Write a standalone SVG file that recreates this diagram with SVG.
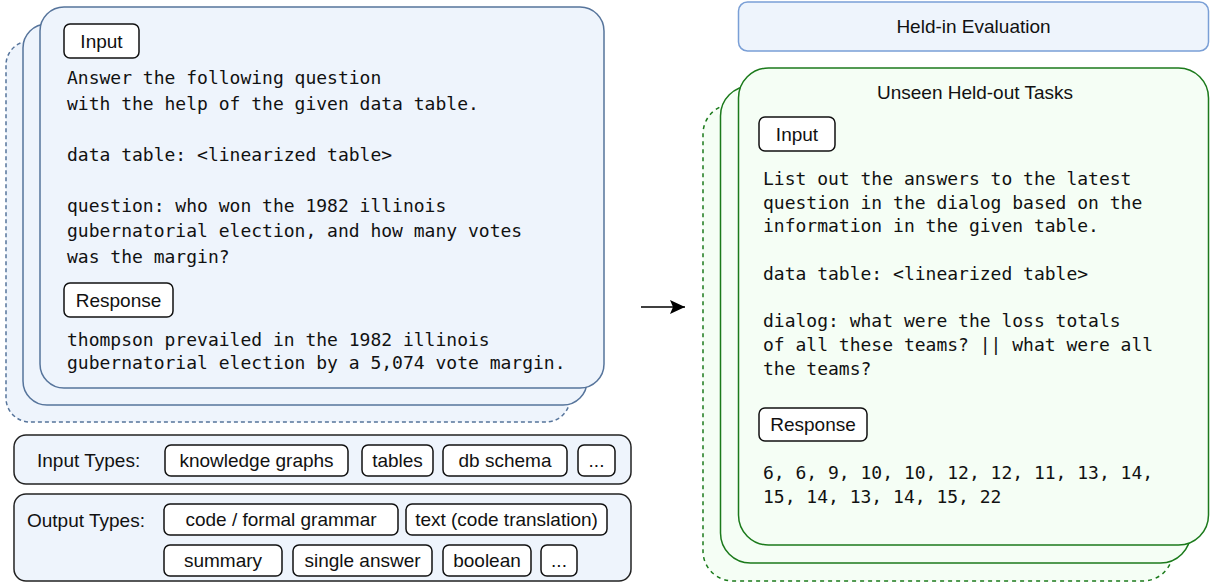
<svg xmlns="http://www.w3.org/2000/svg" width="1210" height="583" viewBox="0 0 1210 583">
<defs>
<style>
.bcard{fill:#eef4fc;stroke:#56749b;stroke-width:1.5}
.bdash{fill:#eef4fc;stroke:#56749b;stroke-width:1.5;stroke-dasharray:4 3}
.gcard{fill:#f5fef5;stroke:#1b7a1b;stroke-width:1.5}
.gdash{fill:#f5fef5;stroke:#1b7a1b;stroke-width:1.5;stroke-dasharray:4 4}
.lbl{fill:#ffffff;stroke:#111111;stroke-width:1.5}
.outer{fill:#eef4fc;stroke:#222222;stroke-width:1.5}
.sans{font-family:"Liberation Sans",Arial,sans-serif;font-size:19px;fill:#111111}
.mid{text-anchor:middle}
.mono{font-family:"DejaVu Sans Mono","Liberation Mono",monospace;font-size:18px;fill:#111111}
</style>
<marker id="arrow" viewBox="0 0 16 14" refX="15" refY="7" markerWidth="16" markerHeight="14" markerUnits="userSpaceOnUse" orient="auto">
<path d="M0,0 L15,7 L0,14 L3,7 Z" fill="#000000"/>
</marker>
</defs>

<g id="train-stack">
<rect class="bdash" x="6" y="41" width="564" height="381" rx="24"/>
<rect class="bcard" x="23" y="24" width="564" height="381" rx="24"/>
<rect class="bcard" x="40" y="7" width="564" height="381" rx="24"/>
</g>

<g id="train-input-label">
<rect class="lbl" x="64" y="24" width="75" height="34" rx="6"/>
<text class="sans mid" x="101.5" y="48">Input</text>
</g>
<g id="train-input-text">
<text class="mono" x="67" y="84">Answer the following question</text>
<text class="mono" x="67" y="109.5">with the help of the given data table.</text>
<text class="mono" x="67" y="160.5">data table: &lt;linearized table&gt;</text>
<text class="mono" x="67" y="211.5">question: who won the 1982 illinois</text>
<text class="mono" x="67" y="237">gubernatorial election, and how many votes</text>
<text class="mono" x="67" y="263">was the margin?</text>
</g>
<g id="train-response-label">
<rect class="lbl" x="64" y="283" width="109" height="34" rx="6"/>
<text class="sans mid" x="118.5" y="307">Response</text>
</g>
<g id="train-response-text">
<text class="mono" x="67" y="345.5">thompson prevailed in the 1982 illinois</text>
<text class="mono" x="67" y="369">gubernatorial election by a 5,074 vote margin.</text>
</g>

<g id="input-types">
<rect class="outer" x="14" y="435" width="617" height="49" rx="12"/>
<text class="sans" x="37" y="467">Input Types:</text>
<rect class="lbl" x="165" y="445" width="183" height="31" rx="6"/>
<text class="sans mid" x="256.5" y="467">knowledge graphs</text>
<rect class="lbl" x="362" y="445" width="71" height="31" rx="6"/>
<text class="sans mid" x="397.5" y="467">tables</text>
<rect class="lbl" x="443" y="445" width="124" height="31" rx="6"/>
<text class="sans mid" x="505" y="467">db schema</text>
<rect class="lbl" x="578" y="445" width="37" height="31" rx="6"/>
<text class="sans mid" x="596.5" y="467">...</text>
</g>

<g id="output-types">
<rect class="outer" x="14" y="494" width="617" height="87" rx="12"/>
<text class="sans" x="27" y="527">Output Types:</text>
<rect class="lbl" x="164" y="504" width="234" height="31" rx="6"/>
<text class="sans mid" x="281" y="526">code / formal grammar</text>
<rect class="lbl" x="406" y="504" width="201" height="31" rx="6"/>
<text class="sans mid" x="506.5" y="526">text (code translation)</text>
<rect class="lbl" x="164" y="545" width="118" height="31" rx="6"/>
<text class="sans mid" x="223" y="567">summary</text>
<rect class="lbl" x="293" y="545" width="139" height="31" rx="6"/>
<text class="sans mid" x="362.5" y="567">single answer</text>
<rect class="lbl" x="443" y="545" width="88" height="31" rx="6"/>
<text class="sans mid" x="487" y="567">boolean</text>
<rect class="lbl" x="541" y="545" width="36" height="31" rx="6"/>
<text class="sans mid" x="559" y="567">...</text>
</g>

<g id="connectors">
<line x1="641" y1="307" x2="685" y2="307" stroke="#000000" stroke-width="1.5" marker-end="url(#arrow)"/>
</g>

<g id="held-in-evaluation">
<rect x="738.5" y="2" width="470" height="49" rx="9" fill="#eef4fc" stroke="#7a9fd6" stroke-width="1.5"/>
<text class="sans mid" x="973.5" y="33">Held-in Evaluation</text>
</g>

<g id="heldout-stack">
<rect class="gdash" x="703" y="104" width="470" height="477" rx="30"/>
<rect class="gcard" x="720.5" y="86" width="470" height="477" rx="30"/>
<rect class="gcard" x="738.5" y="68" width="470" height="477" rx="30"/>
<text class="sans mid" x="975" y="99">Unseen Held-out Tasks</text>
</g>

<g id="heldout-input-label">
<rect class="lbl" x="759" y="117" width="76" height="34" rx="6"/>
<text class="sans mid" x="797" y="141">Input</text>
</g>
<g id="heldout-input-text">
<text class="mono" x="763" y="185">List out the answers to the latest</text>
<text class="mono" x="763" y="208.5">question in the dialog based on the</text>
<text class="mono" x="763" y="232">information in the given table.</text>
<text class="mono" x="763" y="280">data table: &lt;linearized table&gt;</text>
<text class="mono" x="763" y="327">dialog: what were the loss totals</text>
<text class="mono" x="763" y="351">of all these teams? || what were all</text>
<text class="mono" x="763" y="375">the teams?</text>
</g>
<g id="heldout-response-label">
<rect class="lbl" x="759" y="408" width="108" height="33" rx="6"/>
<text class="sans mid" x="813" y="431">Response</text>
</g>
<g id="heldout-response-text">
<text class="mono" x="763" y="479">6, 6, 9, 10, 10, 12, 12, 11, 13, 14,</text>
<text class="mono" x="763" y="503">15, 14, 13, 14, 15, 22</text>
</g>
</svg>
